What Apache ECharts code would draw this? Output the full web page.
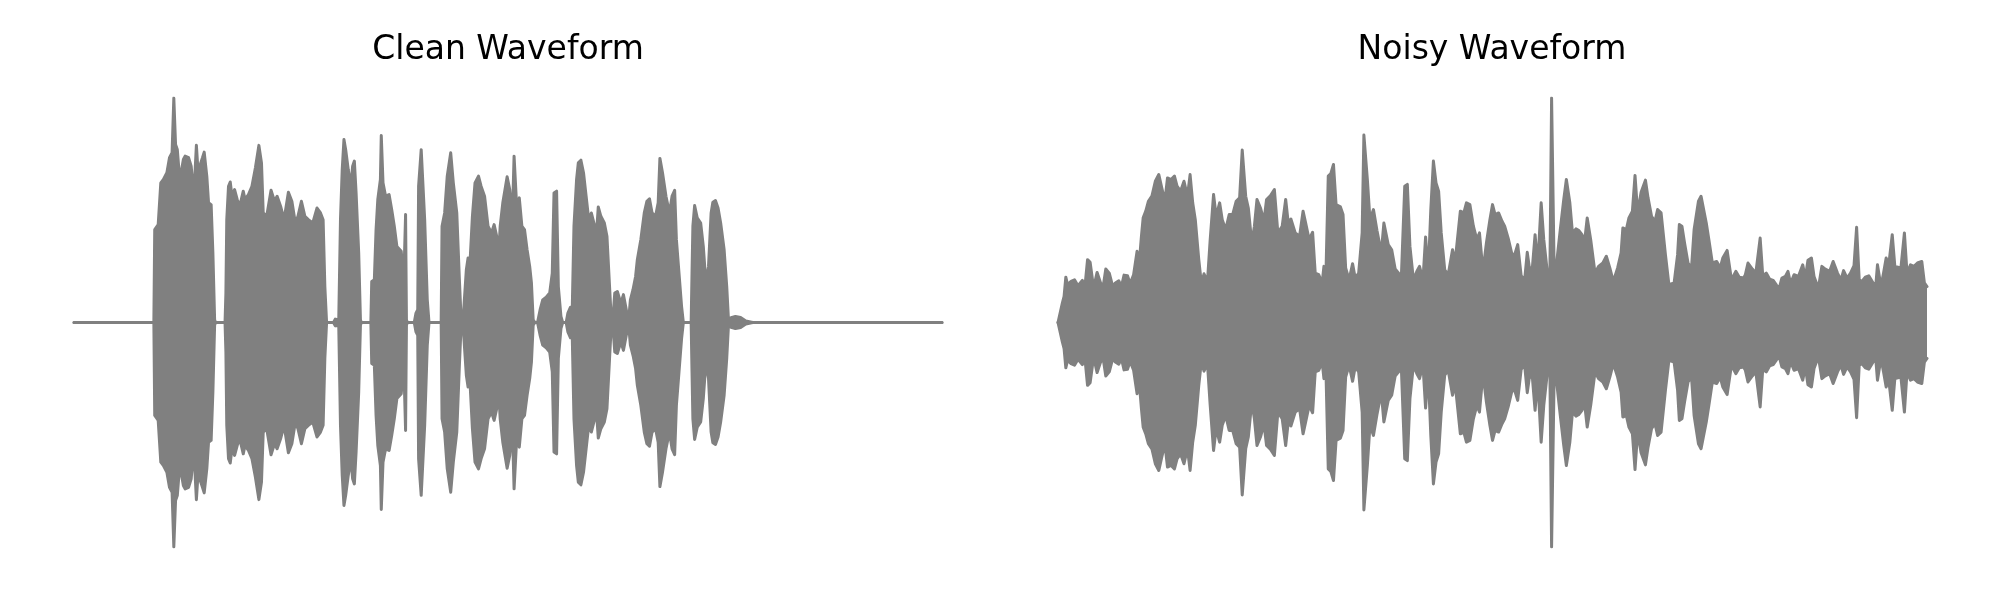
<!DOCTYPE html>
<html>
<head>
<meta charset="utf-8">
<script src="https://cdn.jsdelivr.net/npm/echarts@6/dist/echarts.min.js"></script>
<style>
html,body{margin:0;padding:0;background:#fff;}
#chart{width:2000px;height:600px;}
</style>
</head>
<body>
<div id="chart"></div>
<script>
// Titles
var panelTitles = ['Clean Waveform', 'Noisy Waveform'];

// Clean waveform: normalized time (0..1) and peak amplitude envelope (normalized, symmetric)
var cleanTime = [0.000,0.092,0.093,0.097,0.100,0.103,0.107,0.110,0.113,0.115,0.117,0.119,0.121,0.123,0.126,0.128,0.132,0.135,0.137,0.139,0.141,0.143,0.146,0.148,0.150,0.153,0.155,0.158,0.160,0.162,0.163,
0.174,0.175,0.176,0.178,0.180,0.182,0.185,0.188,0.191,0.195,0.197,0.201,0.205,0.209,0.213,0.216,0.218,0.222,0.227,0.231,0.234,0.238,0.242,0.247,0.251,0.255,0.258,0.262,0.266,0.270,0.275,0.280,0.284,0.287,0.289,0.291,
0.299,0.301,0.305,0.307,0.309,0.311,0.313,0.316,0.319,0.321,0.323,0.325,0.328,0.330,0.331,
0.342,0.343,0.346,0.348,0.350,0.353,0.354,0.356,0.359,0.363,0.366,0.369,0.372,0.377,0.379,0.380,0.382,0.383,0.384,
0.392,0.394,0.396,0.397,0.400,0.402,0.404,0.407,0.409,
0.423,0.424,0.427,0.430,0.434,0.437,0.441,0.444,0.446,0.448,
0.450,0.452,0.454,0.456,0.459,0.462,0.466,0.469,0.473,0.477,0.481,0.484,0.487,0.489,0.491,0.494,0.499,0.502,0.505,0.507,0.510,0.513,0.516,0.519,0.522,0.525,0.527,0.529,0.531,
0.534,0.537,0.540,0.544,0.548,0.551,0.553,0.556,0.558,0.561,0.563,
0.567,0.569,0.572,0.574,0.576,0.579,0.581,0.584,0.587,0.590,0.593,0.596,0.599,0.602,0.604,0.607,0.611,0.614,0.617,0.619,
0.621,0.623,0.626,0.630,0.633,0.637,0.639,0.641,0.644,0.647,0.649,0.653,0.657,0.660,0.663,0.666,0.670,0.673,0.675,0.678,0.682,0.686,0.689,0.692,0.694,0.697,0.700,0.702,
0.711,0.712,0.713,0.715,0.718,0.722,0.725,0.728,0.731,0.734,0.736,0.739,0.742,0.745,0.749,0.752,0.754,0.757,0.762,0.768,0.774,0.782,1.000];
var cleanAmp = [0,0,0.414,0.436,0.622,0.637,0.667,0.734,0.756,1.0,0.793,0.771,0.674,0.659,0.726,0.741,0.734,0.696,0.607,0.637,0.789,0.667,0.711,0.734,0.759,0.652,0.533,0.525,0.31,0.012,0,
0,0.131,0.458,0.607,0.626,0.5625,0.592,0.548,0.518,0.585,0.548,0.57,0.607,0.689,0.789,0.711,0.488,0.473,0.589,0.54,0.5625,0.518,0.458,0.58,0.54,0.443,0.473,0.54,0.473,0.458,0.443,0.51,0.488,0.458,0.16,0,
0,0.015,0.012,0.458,0.68,0.815,0.77,0.68,0.607,0.696,0.719,0.577,0.31,0.012,0,
0,0.183,0.19,0.414,0.548,0.637,0.833,0.622,0.5625,0.57,0.503,0.429,0.339,0.317,0.317,0.19,0.481,0.012,0,
0,0.042,0.057,0.607,0.77,0.778,0.458,0.101,0,
0,0.429,0.488,0.652,0.756,0.622,0.488,0.19,0.012,0,
0,0.235,0.287,0.25,0.473,0.622,0.652,0.607,0.5625,0.429,0.399,0.436,0.384,0.28,0.429,0.533,0.649,0.592,0.458,0.741,0.518,0.555,0.429,0.414,0.324,0.25,0.176,0.012,0,
0,0.057,0.101,0.113,0.131,0.22,0.577,0.585,0.16,0.027,0,
0,0.042,0.068,0.057,0.429,0.637,0.711,0.723,0.667,0.5625,0.458,0.488,0.443,0.399,0.515,0.473,0.443,0.384,0.16,0.012,
0.027,0.131,0.138,0.086,0.124,0.042,0.012,0.101,0.146,0.205,0.28,0.369,0.488,0.54,0.551,0.488,0.473,0.533,0.731,0.667,0.5625,0.488,0.5625,0.589,0.369,0.22,0.071,0,
0,0.22,0.429,0.521,0.466,0.443,0.339,0.176,0.25,0.488,0.536,0.543,0.51,0.443,0.324,0.16,0.012,0.021,0.027,0.022,0.007,0,0];

// Noisy waveform: normalized time (0..1) and peak amplitude envelope
var noisyTime = [0.000,0.005,0.007,0.009,0.011,0.015,0.019,0.023,0.028,0.031,0.034,0.037,0.041,0.045,0.049,0.052,0.055,0.059,0.063,0.066,0.070,0.073,0.076,0.080,0.083,0.087,0.091,0.093,0.096,0.098,
0.101,0.104,0.108,0.112,0.116,0.119,0.123,0.126,0.130,0.134,0.137,0.141,0.145,0.149,0.152,0.155,0.158,0.162,0.165,0.168,0.172,0.175,0.179,0.182,0.186,0.189,0.193,0.197,
0.201,0.205,0.209,0.212,0.216,0.219,0.223,0.226,0.229,0.233,0.237,0.240,0.244,0.249,0.253,0.258,0.262,0.265,0.268,0.273,0.278,0.282,0.285,0.289,0.293,0.296,
0.300,0.304,0.306,0.308,0.311,0.314,0.317,0.320,0.325,0.328,0.331,0.335,0.339,0.342,0.346,0.350,0.352,0.356,0.359,0.363,0.367,0.372,0.375,0.380,0.384,0.388,0.392,0.395,0.399,
0.402,0.405,0.409,0.413,0.416,0.420,0.423,0.426,0.429,0.432,0.435,0.438,0.441,0.445,0.449,0.454,0.457,0.460,0.463,0.467,0.470,0.474,0.478,0.482,0.485,0.489,0.493,0.497,
0.500,0.503,0.507,0.511,0.514,0.518,0.522,0.525,0.529,0.533,0.537,0.540,0.543,0.546,0.549,0.552,0.556,0.559,0.563,0.566,0.568,0.571,0.574,0.578,0.582,0.585,0.589,0.592,0.596,0.599,
0.603,0.606,0.609,0.613,0.618,0.622,0.627,0.631,0.635,0.639,0.644,0.648,0.650,0.654,0.657,0.661,0.664,0.667,0.671,0.676,0.679,0.683,0.687,0.690,0.694,0.699,
0.703,0.709,0.713,0.715,0.718,0.721,0.725,0.729,0.732,0.737,0.740,0.742,0.746,0.749,0.753,0.758,0.762,0.765,0.770,0.775,0.780,0.784,0.789,0.791,0.794,0.799,
0.803,0.808,0.811,0.815,0.819,0.823,0.827,0.830,0.833,0.837,0.840,0.843,0.847,0.852,0.857,0.860,0.863,0.867,0.870,0.875,0.879,0.883,0.888,0.892,0.897,
0.901,0.904,0.908,0.912,0.916,0.919,0.922,0.925,0.929,0.933,0.938,0.941,0.943,0.947,0.950,0.953,0.956,0.960,0.963,0.970,0.974,0.977,0.981,0.985,0.989,0.994,0.997,1.000];
var noisyAmp = [0,0.086,0.116,0.202,0.168,0.183,0.19,0.164,0.1875,0.16,0.28,0.268,0.153,0.223,0.176,0.16,0.238,0.22,0.16,0.176,0.186,0.16,0.211,0.208,0.173,0.213,0.317,0.243,0.384,0.466,
0.496,0.54,0.5625,0.629,0.659,0.607,0.54,0.644,0.637,0.652,0.607,0.585,0.629,0.5625,0.659,0.533,0.458,0.28,0.173,0.217,0.183,0.362,0.57,0.473,0.533,0.458,0.414,0.481,
0.481,0.54,0.555,0.768,0.5625,0.51,0.354,0.429,0.548,0.51,0.451,0.548,0.5625,0.592,0.399,0.429,0.548,0.443,0.461,0.399,0.384,0.496,0.443,0.369,0.402,0.22,
0.213,0.176,0.25,0.16,0.652,0.664,0.704,0.525,0.515,0.481,0.243,0.19,0.262,0.198,0.22,0.399,0.835,0.637,0.458,0.503,0.411,0.31,0.443,0.347,0.324,0.238,0.22,0.19,0.607,
0.615,0.339,0.19,0.228,0.25,0.19,0.381,0.213,0.503,0.719,0.622,0.585,0.399,0.235,0.213,0.324,0.272,0.384,0.496,0.488,0.533,0.525,0.429,0.369,0.399,0.228,0.354,0.458,
0.525,0.481,0.488,0.451,0.429,0.376,0.31,0.295,0.347,0.208,0.19,0.3125,0.228,0.25,0.391,0.25,0.533,0.369,0.228,0.19,1.0,0.22,0.272,0.414,0.548,0.637,0.533,0.399,0.417,0.411,
0.391,0.362,0.466,0.369,0.22,0.25,0.265,0.295,0.243,0.183,0.243,0.31,0.421,0.414,0.466,0.496,0.655,0.488,0.58,0.634,0.555,0.473,0.451,0.503,0.488,0.302,
0.168,0.176,0.302,0.436,0.429,0.354,0.265,0.243,0.414,0.54,0.5625,0.57,0.443,0.369,0.265,0.272,0.243,0.287,0.321,0.19,0.228,0.202,0.198,0.213,0.265,0.238,
0.22,0.376,0.208,0.22,0.193,0.1875,0.165,0.153,0.198,0.205,0.228,0.173,0.213,0.205,0.257,0.198,0.277,0.287,0.205,0.153,0.25,0.238,0.228,0.272,0.22,
0.19,0.231,0.198,0.22,0.253,0.424,0.19,0.183,0.202,0.208,0.176,0.16,0.257,0.16,0.22,0.287,0.257,0.391,0.25,0.243,0.399,0.22,0.257,0.25,0.265,0.272,0.176,0.16];

function pairs(t, a, sign) {
  var out = [];
  for (var i = 0; i < t.length; i++) out.push([t[i], sign * a[i]]);
  return out;
}

var GRAY = '#808080';
function waveSeries(idx, t, a, sign) {
  return {
    type: 'line',
    xAxisIndex: idx, yAxisIndex: idx,
    data: pairs(t, a, sign),
    symbol: 'none', showSymbol: false, smooth: false,
    lineStyle: { color: GRAY, width: 3, cap: 'round', join: 'round' },
    // fill each half slightly past the centre so the two halves overlap (no seam)
    areaStyle: { color: GRAY, opacity: 1, origin: -sign * 0.006 },
    silent: true, animation: false, z: 2
  };
}

var chart = echarts.init(document.getElementById('chart'), null, { renderer: 'canvas' });
var grids = [
  { left: 74, top: 98, width: 868, height: 449 },
  { left: 1058, top: 98, width: 869, height: 449 }
];
var titleStyle = { fontFamily: 'DejaVu Sans', fontSize: 33, fontWeight: 'normal', color: '#000' };
chart.setOption({
  backgroundColor: '#ffffff',
  animation: false,
  title: [
    { text: panelTitles[0], left: 503, top: 29, textAlign: 'center', textStyle: titleStyle },
    { text: panelTitles[1], left: 1487, top: 29, textAlign: 'center', textStyle: titleStyle }
  ],
  grid: grids,
  xAxis: [0, 1].map(function (i) {
    return { type: 'value', gridIndex: i, min: 0, max: 1, show: false };
  }),
  yAxis: [0, 1].map(function (i) {
    return { type: 'value', gridIndex: i, min: -1, max: 1, show: false };
  }),
  series: [
    waveSeries(0, cleanTime, cleanAmp, 1),
    waveSeries(0, cleanTime, cleanAmp, -1),
    waveSeries(1, noisyTime, noisyAmp, 1),
    waveSeries(1, noisyTime, noisyAmp, -1)
  ]
});
</script>
</body>
</html>
